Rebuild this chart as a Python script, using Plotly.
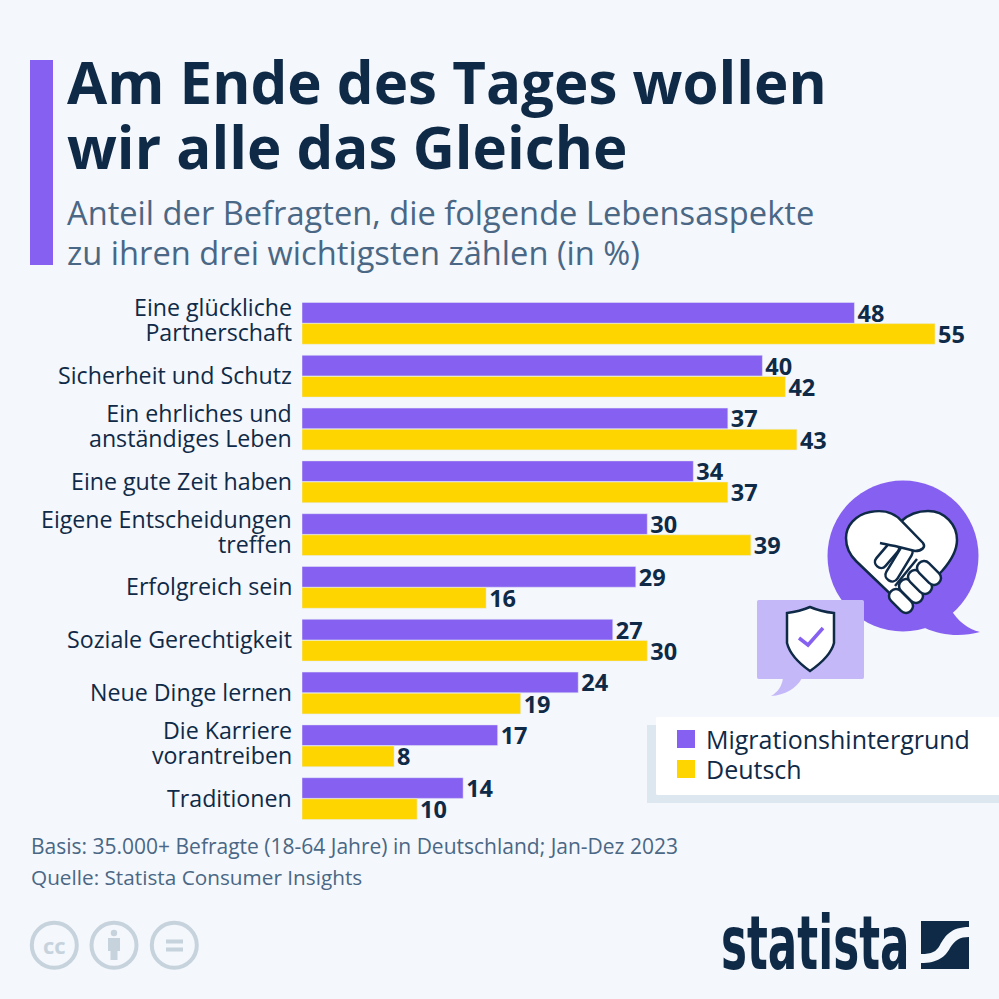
import re
import plotly.graph_objects as go

categories = ["Eine glückliche<br>Partnerschaft", "Sicherheit und Schutz", "Ein ehrliches und<br>anständiges Leben",
              "Eine gute Zeit haben", "Eigene Entscheidungen<br>treffen", "Erfolgreich sein",
              "Soziale Gerechtigkeit", "Neue Dinge lernen", "Die Karriere<br>vorantreiben", "Traditionen"]
migration = [48, 40, 37, 34, 30, 29, 27, 24, 17, 14]
deutsch = [55, 42, 43, 37, 39, 16, 30, 19, 8, 10]

SIZE = 999
BG = "#f4f7fb"
PURPLE = "#8660f0"
LILAC = "#c5b8f8"
YELLOW = "#ffd500"
DARK = "#0f2a47"
SLATE = "#4a6785"
GREY = "#c6d3dd"
FONT = "Open Sans"


def pth(s):
    # path written in image pixels -> paper coords
    return re.sub(r"(-?[\d.]+),(-?[\d.]+)", lambda m: f"{float(m[1])/SIZE:.5f},{1-float(m[2])/SIZE:.5f}", s)


def path(s, fill, line=None, width=0):
    return dict(type="path", xref="paper", yref="paper", path=pth(s), fillcolor=fill, layer="above",
                line=dict(color=line or fill, width=width))


def rect(x0, y0, x1, y1, fill):
    return dict(type="rect", xref="paper", yref="paper", x0=x0/SIZE, x1=x1/SIZE, y0=1-y0/SIZE, y1=1-y1/SIZE,
                fillcolor=fill, line=dict(width=0), layer="above")


def rrect(x0, y0, x1, y1, r, fill):
    s = (f"M{x0+r},{y0} L{x1-r},{y0} C{x1},{y0} {x1},{y0} {x1},{y0+r} L{x1},{y1-r} C{x1},{y1} {x1},{y1} {x1-r},{y1} "
         f"L{x0+r},{y1} C{x0},{y1} {x0},{y1} {x0},{y1-r} L{x0},{y0+r} C{x0},{y0} {x0},{y0} {x0+r},{y0} Z")
    return path(s, fill)


def circle(cx, cy, r, fill, line=None, width=0):
    return dict(type="circle", xref="paper", yref="paper", x0=(cx-r)/SIZE, x1=(cx+r)/SIZE,
                y0=1-(cy-r)/SIZE, y1=1-(cy+r)/SIZE, fillcolor=fill, layer="above",
                line=dict(color=line or fill, width=width))


def capsule(x0, y0, x1, y1, w):
    # rounded finger between two points
    dx, dy = x1-x0, y1-y0
    n = (dx*dx+dy*dy)**0.5
    nx, ny = -dy/n*w/2, dx/n*w/2
    ux, uy = dx/n*w*0.65, dy/n*w*0.65
    s = (f"M{x0+nx:.1f},{y0+ny:.1f} L{x1+nx:.1f},{y1+ny:.1f} "
         f"C{x1+nx+ux:.1f},{y1+ny+uy:.1f} {x1-nx+ux:.1f},{y1-ny+uy:.1f} {x1-nx:.1f},{y1-ny:.1f} "
         f"L{x0-nx:.1f},{y0-ny:.1f} "
         f"C{x0-nx-ux:.1f},{y0-ny-uy:.1f} {x0+nx-ux:.1f},{y0+ny-uy:.1f} {x0+nx:.1f},{y0+ny:.1f} Z")
    return path(s, "white", DARK, 2.5)


def text(x, y, s, size, color, anchor="left", bold=False, family=FONT):
    return dict(xref="paper", yref="paper", x=x/SIZE, y=1-y/SIZE, text=f"<b>{s}</b>" if bold else s,
                showarrow=False, xanchor=anchor, yanchor="middle", align=anchor,
                font=dict(family=family, size=size, color=color))


fig = go.Figure()
fig.add_bar(name="Migrationshintergrund", y=categories, x=migration, orientation="h", marker_color=PURPLE,
            text=migration, showlegend=False, hoverinfo="skip")
fig.add_bar(name="Deutsch", y=categories, x=deutsch, orientation="h", marker_color=YELLOW,
            text=deutsch, showlegend=False, hoverinfo="skip")
fig.update_traces(textposition="outside", cliponaxis=False, constraintext="none", textangle=0,
                  textfont=dict(family=FONT, size=23.5, color=DARK, weight="bold"))

shapes = [
    rect(30, 60, 53, 265, PURPLE),
    # legend box
    rect(647, 725, 999, 803, "#dde7ef"),
    rrect(656, 717, 1010, 795, 3, "white"),
    rect(677, 730, 695, 748, PURPLE),
    rect(677, 760, 695, 778, YELLOW),
    # big speech bubble
    circle(903, 556, 75.5, PURPLE),
    path("M950,608 C958,622 968,629 980,632 C962,637 942,636 925,628 Z", PURPLE),
    path("M901.5,521 C893,511 880,510 870,512 C855,515 846,526 846,538 C846,548 850,555 856,561 "
         "L906,609 L942,571 C950,562 957,552 957,540 C957,525 945,511 928,511 C917,511 908,515 901.5,521 Z",
         "white", DARK, 2.5),
    capsule(893, 548, 881, 562, 12),
    capsule(906, 552, 892, 575, 13),
    path("M901.5,521 L923,543 C926,547 922,551 915,551 L895,546 C889,545 885,544 880,543", "white", DARK, 2.5),
    path("M917,559 L895,586", "rgba(0,0,0,0)", DARK, 2.5),
    capsule(896, 596, 906, 606, 14),
    capsule(906, 586, 916, 596, 14),
    capsule(915, 577, 925, 587, 14),
    capsule(924, 568, 934, 578, 14),
    # small speech bubble with shield
    rrect(757, 600, 864, 679, 4, LILAC),
    path("M783,678 C782,686 778,692 771,696 C785,695 796,689 802,678 Z", LILAC),
    path("M810,607 C803,610 795,612 787,613 L787,643 C790,655 800,664 810,671 C820,664 831,655 834,643 L834,613 "
         "C825,612 817,610 810,607 Z", "white", DARK, 2.5),
    path("M799,638 L808,645 L823,628", "rgba(0,0,0,0)", PURPLE, 3.5),
    # cc icons
    circle(54.3, 945.3, 22.5, "rgba(0,0,0,0)", GREY, 4),
    circle(114, 945.3, 22.5, "rgba(0,0,0,0)", GREY, 4),
    circle(174.3, 945.3, 22.5, "rgba(0,0,0,0)", GREY, 4),
    circle(114, 933, 3.2, GREY),
    rect(108, 938, 120, 951, GREY),
    rect(110.5, 950, 117.5, 960, GREY),
    rect(166, 939.5, 183, 943.5, GREY),
    rect(166, 947.5, 183, 951.5, GREY),
    # statista mark
    path("M921,921 L969,921 L969,927 C951,927 945,936 940,945 C936,952 932,954 921,954 Z", DARK),
    path("M969,937 L969,969 L921,969 L921,963 C938,963 945,957 950,948 C955,940 960,937 969,937 Z", DARK),
]

annotations = [
    text(65, 81, "Am Ende des Tages wollen", 58.25, DARK, bold=True),
    text(65, 146, "wir alle das Gleiche", 58.25, DARK, bold=True),
    text(65, 213, "Anteil der Befragten, die folgende Lebensaspekte", 32.65, SLATE),
    text(65, 253, "zu ihren drei wichtigsten zählen (in %)", 32.65, SLATE),
    text(704, 739, "Migrationshintergrund", 25, DARK),
    text(704, 769, "Deutsch", 25, DARK),
    text(29, 846, "Basis: 35.000+ Befragte (18-64 Jahre) in Deutschland; Jan-Dez 2023", 21, SLATE),
    text(29, 877, "Quelle: Statista Consumer Insights", 20.75, SLATE),
    text(54.3, 945.3, "cc", 22, GREY, anchor="center", bold=True),
    text(719, 943, "statista", 74, DARK, bold=True, family="DejaVu Sans"),
]

# category labels
for cat in categories:
    annotations.append(dict(xref="paper", yref="y", x=294/SIZE, y=cat, yshift=1, text=cat, showarrow=False,
                            xanchor="right", yanchor="middle", align="right",
                            font=dict(family=FONT, size=23.2, color=DARK)))

fig.update_layout(
    width=SIZE, height=SIZE, margin=dict(l=0, r=0, t=0, b=0), autosize=False,
    paper_bgcolor=BG, plot_bgcolor=BG,
    barmode="group", bargap=0.2, bargroupgap=0.02,
    shapes=shapes, annotations=annotations,
    xaxis=dict(domain=[302/SIZE, 1], range=[0, 60.56], visible=False, fixedrange=True),
    yaxis=dict(domain=[1-825/SIZE, 1-297/SIZE], type="category", range=[9.5, -0.5], showgrid=False, showline=False,
               ticks="", showticklabels=False, fixedrange=True),
)

# annotation text has a fixed 1.3 line spacing, the picture is tighter
tighten = ("document.querySelectorAll('.annotation-text tspan.line').forEach(t=>{"
           "if(parseFloat(t.getAttribute('dy'))>0)t.setAttribute('dy','25px');});")
# the logo wordmark is a narrow face, none is installed: squeeze the text
squeeze = ("[...document.querySelectorAll('text')].filter(t=>t.textContent==='statista').forEach(t=>{"
           "t.style.transformBox='fill-box';t.style.transformOrigin='left center';t.style.transform='scaleX(0.59)';});")
fig.write_html("out.html", config=dict(displayModeBar=False),
               post_script="document.body.style.margin='0';document.documentElement.style.overflow='hidden';" + tighten + squeeze)
